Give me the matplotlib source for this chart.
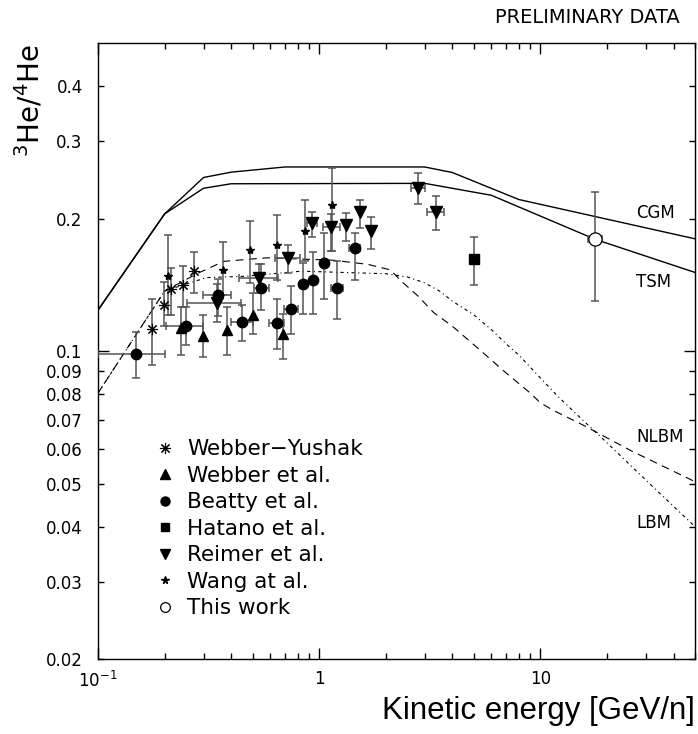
import numpy as np
import matplotlib
matplotlib.use("Agg")
import matplotlib.pyplot as plt
from matplotlib.ticker import FixedLocator, FixedFormatter, NullFormatter, LogLocator
from matplotlib.lines import Line2D

plt.rcParams['font.family'] = ['DejaVu Sans']
plt.rcParams['mathtext.fontset'] = 'dejavusans'

# ---------------- model curves ----------------
cgm_x = [0.1, 0.2, 0.3, 0.4, 0.7, 3.0, 4.0, 8.0, 50]
cgm_y = [0.124, 0.205, 0.248, 0.255, 0.262, 0.262, 0.2545, 0.221, 0.180]

tsm_x = [0.1, 0.2, 0.3, 0.4, 3.0, 6.0, 17.7, 50]
tsm_y = [0.124, 0.205, 0.2344, 0.240, 0.2405, 0.226, 0.1795, 0.151]

nlbm_x = [0.1, 0.2, 0.28, 0.37, 0.58, 0.81, 1.15, 1.66, 2.1, 2.35, 2.8, 3.3, 4.0, 5.5, 7.0, 9.0, 10, 11.4, 15.6, 26, 50]
nlbm_y = [0.0804, 0.137, 0.150, 0.160, 0.163, 0.162, 0.161, 0.1575, 0.153, 0.1443, 0.1334, 0.1223, 0.114, 0.0993,
          0.0893, 0.0804, 0.0764, 0.0735, 0.068, 0.0593, 0.0506]

lbm_x = [0.1, 0.2, 0.26, 0.31, 0.46, 0.83, 2.0, 2.5, 3.0, 3.5, 4.0, 5.0, 6.0, 7.0, 8.0, 10, 12, 15, 20, 30, 50]
lbm_y = [0.0804, 0.137, 0.143, 0.147, 0.148, 0.152, 0.150, 0.1475, 0.143, 0.137, 0.130, 0.121, 0.112, 0.104,
         0.098, 0.087, 0.079, 0.071, 0.062, 0.051, 0.040]

# ---------------- data sets ----------------
# Webber-Yushak
wy_x = [0.176, 0.199, 0.2135, 0.242, 0.272]
wy_y = [0.1125, 0.1277, 0.1382, 0.1411, 0.152]
wy_ylo = [0.093, 0.114, 0.1212, 0.1262, 0.1358]
wy_yhi = [0.1316, 0.1435, 0.1547, 0.156, 0.1683]

# Webber et al.
we_x = [0.238, 0.297, 0.383, 0.504, 0.684]
we_y = [0.113, 0.1086, 0.112, 0.1209, 0.1095]
we_ylo = [0.0983, 0.0971, 0.0983, 0.1096, 0.0963]
we_yhi = [0.1262, 0.1209, 0.1262, 0.1358, 0.1216]

# Beatty et al.
be_x = [0.149, 0.2496, 0.347, 0.448, 0.548, 0.645, 0.746, 0.846, 0.942, 1.049, 1.198, 1.445]
be_y = [0.0988, 0.1144, 0.1339, 0.1166, 0.1394, 0.116, 0.125, 0.1418, 0.145, 0.159, 0.139, 0.1718]
be_ylo = [0.087, 0.1036, 0.1201, 0.1054, 0.1238, 0.1013, 0.1092, 0.1216, 0.1216, 0.1316, 0.1185, 0.1455]
be_yhi = [0.1105, 0.1262, 0.146, 0.1277, 0.1575, 0.1311, 0.1406, 0.159, 0.168, 0.186, 0.160, 0.1853]
be_xlo = [0.10, 0.202, 0.297, 0.40, 0.509, 0.595, 0.696, None, None, None, 1.133, 1.362]
be_xhi = [0.20, 0.297, 0.40, 0.50, 0.595, 0.696, 0.80, None, None, None, 1.279, 1.522]

# Hatano et al.
ha_x = [5.0]
ha_y = [0.1617]
ha_ylo = [0.1417]
ha_yhi = [0.1817]

# Reimer et al.
re_x = [0.345, 0.532, 0.726, 0.926, 1.125, 1.325, 1.528, 1.72, 2.80, 3.356]
re_y = [0.1284, 0.1468, 0.163, 0.1958, 0.1913, 0.193, 0.207, 0.1874, 0.2353, 0.207]
re_ylo = [0.1164, 0.1358, 0.1508, 0.1817, 0.1688, 0.1779, 0.1907, 0.1703, 0.2155, 0.1881]
re_yhi = [0.1418, 0.1575, 0.174, 0.2075, 0.2046, 0.2065, 0.2204, 0.2021, 0.2535, 0.2251]
re_xlo = [0.253, 0.435, 0.634, 0.879, 1.038, None, None, None, 2.61, 3.07]
re_xhi = [0.444, 0.649, 0.823, 0.975, 1.236, None, None, None, 3.02, 3.67]

# Wang et al.
wa_x = [0.208, 0.366, 0.487, 0.645, 0.864, 1.14]
wa_y = [0.148, 0.1528, 0.170, 0.174, 0.1874, 0.2147]
wa_ylo = [0.121, 0.1339, 0.143, 0.1455, 0.160, 0.1688]
wa_yhi = [0.1835, 0.177, 0.1975, 0.2038, 0.220, 0.2602]

# This work
tw_x = [17.7]
tw_y = [0.1795]
tw_ylo = [0.1304]
tw_yhi = [0.2299]
tw_xlo = [16.5]
tw_xhi = [18.96]

y_tick_vals = [0.02, 0.03, 0.04, 0.05, 0.06, 0.07, 0.08, 0.09, 0.2, 0.3, 0.4]
y_tick_labels = ['0.02', '0.03', '0.04', '0.05', '0.06', '0.07', '0.08', '0.09', '0.2', '0.3', '0.4']

# ---------------- figure ----------------
fig = plt.figure(figsize=(6.98, 7.34), dpi=100)
ax = fig.add_axes([98 / 698, 1 - 659.3 / 734, (695 - 98) / 698, (659.3 - 43.3) / 734])
ax.set_xscale('log')
ax.set_yscale('log')
ax.set_xlim(0.1, 50)
ax.set_ylim(0.02, 0.5)

ax.plot(cgm_x, cgm_y, color='black', lw=1.0, zorder=2)
ax.plot(tsm_x, tsm_y, color='black', lw=1.0, zorder=2)
ax.plot(nlbm_x, nlbm_y, color='black', lw=0.8, linestyle=(0, (7, 5)), zorder=2)
ax.plot(lbm_x, lbm_y, color='black', lw=0.8, linestyle=(0, (3, 3, 1, 3)), zorder=2)

ecol = '#555555'


def draw(x, y, ylo, yhi, xlo=None, xhi=None, **mk):
    x = np.asarray(x, float)
    y = np.asarray(y, float)
    yerr = np.vstack([y - np.asarray(ylo), np.asarray(yhi) - y])
    ax.errorbar(x, y, yerr=yerr, fmt='none', ecolor=ecol, elinewidth=1.1, capsize=2.8, capthick=1.1, zorder=3)
    if xlo is not None:
        idx = [i for i, v in enumerate(xlo) if v is not None]
        xs = x[idx]
        xe = np.vstack([xs - np.array([xlo[i] for i in idx]), np.array([xhi[i] for i in idx]) - xs])
        ax.errorbar(xs, y[idx], xerr=xe, fmt='none', ecolor=ecol, elinewidth=1.1, capsize=2.8, capthick=1.1,
                    zorder=3)
    ax.plot(x, y, linestyle='none', zorder=4, **mk)


m_wy = dict(marker=(8, 2, 0), markersize=8, color='black', markeredgewidth=0.8)
m_we = dict(marker='^', markersize=7, color='black')
m_be = dict(marker='o', markersize=7.5, color='black')
m_ha = dict(marker='s', markersize=6.5, color='black')
m_re = dict(marker='v', markersize=8, color='black')
m_wa = dict(marker='*', markersize=6, color='black')
m_tw = dict(marker='o', markersize=9.5, markerfacecolor='white', markeredgecolor='black', markeredgewidth=0.9)

draw(wy_x, wy_y, wy_ylo, wy_yhi, **m_wy)
draw(we_x, we_y, we_ylo, we_yhi, **m_we)
draw(be_x, be_y, be_ylo, be_yhi, be_xlo, be_xhi, **m_be)
draw(ha_x, ha_y, ha_ylo, ha_yhi, **m_ha)
draw(re_x, re_y, re_ylo, re_yhi, re_xlo, re_xhi, **m_re)
draw(wa_x, wa_y, wa_ylo, wa_yhi, **m_wa)
draw(tw_x, tw_y, tw_ylo, tw_yhi, tw_xlo, tw_xhi, **m_tw)

# ticks
ax.xaxis.set_major_locator(FixedLocator([0.1, 1, 10]))
ax.xaxis.set_major_formatter(FixedFormatter([r'$\mathregular{10^{-1}}$', '1', '10']))
ax.xaxis.set_minor_locator(LogLocator(base=10, subs=np.arange(2, 10)))
ax.xaxis.set_minor_formatter(NullFormatter())
ax.yaxis.set_major_locator(FixedLocator([0.1]))
ax.yaxis.set_major_formatter(FixedFormatter(['0.1']))
ax.yaxis.set_minor_locator(FixedLocator(y_tick_vals))
ax.yaxis.set_minor_formatter(FixedFormatter(y_tick_labels))

ax.tick_params(which='both', direction='in', top=True, right=True, width=1.0, labelsize=12)
ax.tick_params(axis='x', which='major', length=8, pad=8)
ax.tick_params(axis='x', which='minor', length=4)
ax.tick_params(axis='y', which='major', length=8, pad=11)
ax.tick_params(axis='y', which='minor', length=4.5, pad=11)
for s in ax.spines.values():
    s.set_linewidth(1.0)

# curve labels
for lab, yf in [('CGM', 0.7245), ('TSM', 0.6125), ('NLBM', 0.361), ('LBM', 0.2213)]:
    ax.text(0.901, yf, lab, transform=ax.transAxes, fontsize=12, va='center', ha='left')

# legend
handles = [Line2D([], [], linestyle='none', **m) for m in
           [dict(m_wy), dict(m_we, markersize=6.5), dict(m_be, markersize=6.5), dict(m_ha, markersize=6),
            dict(m_re, markersize=6.5), dict(m_wa, markersize=5.5), dict(m_tw, markersize=7)]]
labels = ['Webber\u2212Yushak', 'Webber et al.', 'Beatty et al.', 'Hatano et al.', 'Reimer et al.',
          'Wang at al.', 'This work']
ax.legend(handles, labels, loc='upper left', bbox_to_anchor=(0.094, 0.357), frameon=False, fontsize=15.5,
          handlelength=1.0, handletextpad=0.55, borderaxespad=0, borderpad=0, labelspacing=0.3)

# titles
fig.text(680 / 698, 1 - 17.5 / 734, 'PRELIMINARY DATA', ha='right', va='center', fontsize=14)
fig.text(695 / 698, 1 - 711 / 734, 'Kinetic energy [GeV/n]', ha='right', va='center', fontsize=22.5,
         family='Liberation Sans')
fig.text(30 / 698, 1 - 101 / 734, r'$^{3}$He/$^{4}$He', ha='center', va='center', rotation=90, fontsize=20)

fig.savefig('out.png', dpi=100)
